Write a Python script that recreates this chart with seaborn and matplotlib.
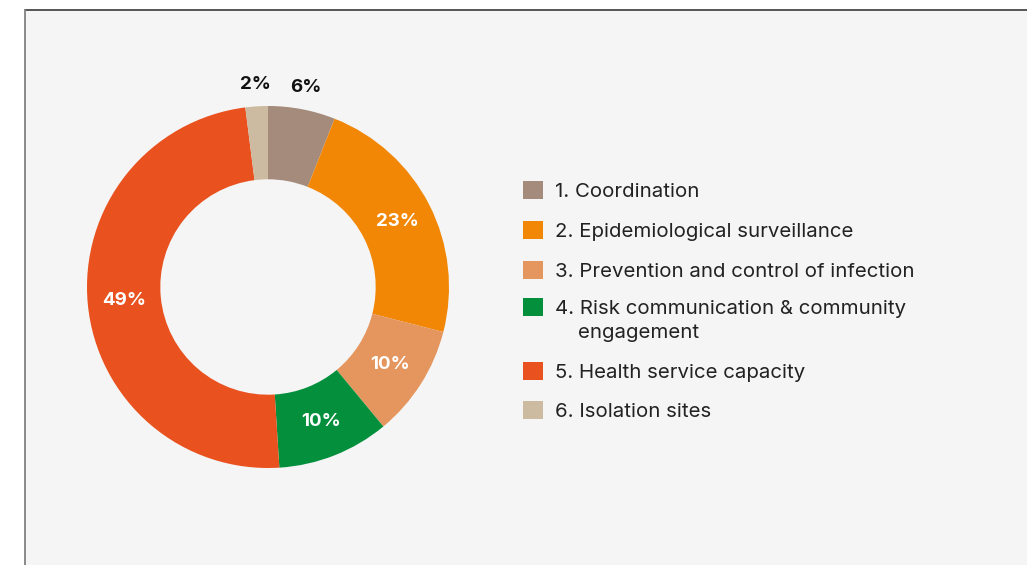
import matplotlib
matplotlib.use("Agg")
import numpy as np
import matplotlib.pyplot as plt
from matplotlib.patches import Rectangle, Patch
from matplotlib.lines import Line2D
from matplotlib.legend_handler import HandlerPatch
import seaborn as sns

# Budget share by pillar (%)
categories = [
    "1. Coordination",
    "2. Epidemiological surveillance",
    "3. Prevention and control of infection",
    "4. Risk communication & community\n    engagement",
    "5. Health service capacity",
    "6. Isolation sites",
]
shares = [6, 23, 10, 10, 49, 2]
colors = ["#a48b7b", "#f28705", "#e5965e", "#038f3c", "#e9511e", "#cdbba1"]
outside_labels = [True, False, False, False, False, True]

sns.set_theme(style="white")
plt.rcParams["font.family"] = ["Inter", "DejaVu Sans"]

W, H = 1027, 565
fig = plt.figure(figsize=(W / 100, H / 100), dpi=100)
fig.patch.set_facecolor("white")

# Light panel behind the chart
x0, y0 = 25 / W, 1 - 10 / H
fig.add_artist(Rectangle((x0, 0), 1 - x0, y0, transform=fig.transFigure,
                         facecolor="#f5f5f5", edgecolor="none", zorder=0))
fig.add_artist(Line2D([x0, 1], [y0, y0], transform=fig.transFigure,
                      color="#555555", lw=1.4, zorder=1))
fig.add_artist(Line2D([x0, x0], [0, y0], transform=fig.transFigure,
                      color="#8a8a8a", lw=1.4, zorder=1))

# Donut
cx, cy, r = 268, 287, 181
ax = fig.add_axes([(cx - r) / W, (H - cy - r) / H, 2 * r / W, 2 * r / H])
ax.set_facecolor("none")
wedges, _ = ax.pie(shares, colors=colors, startangle=90, counterclock=False,
                   radius=1.0, wedgeprops=dict(width=0.405, edgecolor="none"))
ax.set_xlim(-1, 1)
ax.set_ylim(-1, 1)
ax.set_aspect("equal")
ax.axis("off")

for w, v, out in zip(wedges, shares, outside_labels):
    ang = np.deg2rad((w.theta1 + w.theta2) / 2)
    d = 1.12 if out else 0.80
    ax.text(d * np.cos(ang), d * np.sin(ang), f"{v}%",
            ha="center", va="center", fontsize=13.5, fontweight="bold",
            color="#111111" if out else "white")


# Legend: the swatch of a two-line entry sits beside its first line
class FirstLineSwatch(HandlerPatch):
    def __init__(self, shift_pt=0.0):
        super().__init__()
        self.shift_pt = shift_pt

    def create_artists(self, legend, orig_handle, xdescent, ydescent,
                       width, height, fontsize, trans):
        p = Rectangle((-xdescent, -ydescent + self.shift_pt), width, height,
                      facecolor=orig_handle.get_facecolor(), edgecolor="none",
                      transform=trans)
        return [p]


FS = 14.7
LS = 1.38
handles = [Patch(facecolor=c, edgecolor="none") for c in colors]
handler_map = {}
for h, lab in zip(handles, categories):
    n_extra = lab.count("\n")
    handler_map[h] = FirstLineSwatch(shift_pt=n_extra * FS * LS / 2)

leg = fig.legend(handles, categories, loc="upper left",
                 bbox_to_anchor=(523 / W, 1 - 181 / H),
                 frameon=False, handlelength=0.98,
                 handleheight=0.98, handletextpad=0.6, labelspacing=0.97,
                 borderaxespad=0, borderpad=0, prop={"size": FS},
                 handler_map=handler_map)
for t in leg.get_texts():
    t.set_color("#222222")
    t.set_linespacing(LS)

fig.savefig("out.png", dpi=100, facecolor=fig.get_facecolor())
